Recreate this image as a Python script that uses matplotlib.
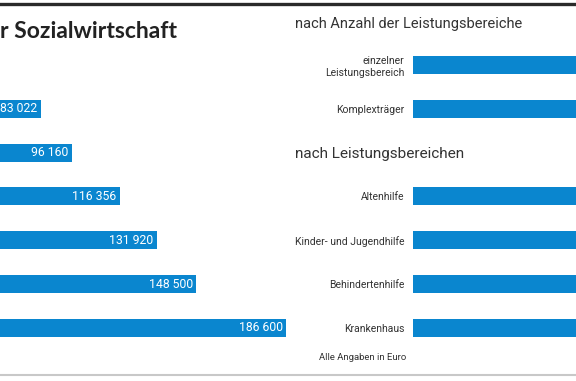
import matplotlib.pyplot as plt

# =========================
# DATA
# =========================
left_values = [83022, 96160, 116356, 131920, 148500, 186600]
left_labels = ["83 022", "96 160", "116 356", "131 920", "148 500", "186 600"]

right_categories = ["einzelner\nLeistungsbereich", "Komplexträger",
                    "Altenhilfe", "Kinder- und Jugendhilfe",
                    "Behindertenhilfe", "Krankenhaus"]
# values are cut off in the picture, estimated
right_values = [110000, 150000, 120000, 105000, 125000, 190000]

BLUE = "#0a86cf"
W, H = 576, 381
NARROW = ["Roboto", "DejaVu Sans"]

def fx(px):
    return px / W

def fy(py):
    return 1 - py / H

fig = plt.figure(figsize=(W / 100, H / 100), dpi=100)

# rows share one vertical grid: row k centre at 65 + 43.8*k px
top_px, bot_px = 43.1, 349.7
left_pos = [1, 2, 3, 4, 5, 6]
right_pos = [0, 1, 3, 4, 5, 6]

# =========================
# LEFT BARS
# =========================
axl = fig.add_axes([0, fy(bot_px), fx(290), (bot_px - top_px) / H])
axl.barh(left_pos, left_values, height=0.41, color=BLUE)
axl.set_xlim(65800, 188200)
axl.set_ylim(6.5, -0.5)
axl.axis("off")
for p, v, lab in zip(left_pos, left_values, left_labels):
    axl.text(v - 1300, p, lab, ha="right", va="center", color="white",
             fontsize=8.8, family=NARROW)

# =========================
# RIGHT BARS
# =========================
axr = fig.add_axes([fx(413), fy(bot_px), fx(163), (bot_px - top_px) / H])
axr.barh(right_pos, right_values, height=0.41, color=BLUE)
axr.set_xlim(0, 68800)
axr.set_ylim(6.5, -0.5)
axr.set_yticks(right_pos)
axr.set_yticklabels(right_categories, fontsize=7.5, family=NARROW, color="#333333")
for lab in axr.get_yticklabels():
    lab.set_multialignment("right")
axr.tick_params(axis="y", length=0, pad=6)
axr.tick_params(axis="x", bottom=False, labelbottom=False)
for s in axr.spines.values():
    s.set_visible(False)

# =========================
# TEXTS
# =========================
fig.text(fx(0), fy(32), "r Sozialwirtschaft", fontsize=16.5, fontweight="bold",
         family=["Lato", "DejaVu Sans"], color="#222222", va="center", ha="left")
fig.text(fx(295), fy(24), "nach Anzahl der Leistungsbereiche", fontsize=10.5,
         family=NARROW, color="#333333", va="center", ha="left")
fig.text(fx(295), fy(154), "nach Leistungsbereichen", fontsize=11,
         family=NARROW, color="#333333", va="center", ha="left")
fig.text(fx(406), fy(358), "Alle Angaben in Euro", fontsize=6.8,
         family=NARROW, color="#333333", va="center", ha="right")

# rules top and bottom
fig.add_artist(plt.Line2D([0, 1], [fy(3.5), fy(3.5)], color="#2a2a2a", lw=2.4))
fig.add_artist(plt.Line2D([0, 1], [fy(375), fy(375)], color="#c8c8c8", lw=1.5))

fig.savefig("out.png", dpi=100)
